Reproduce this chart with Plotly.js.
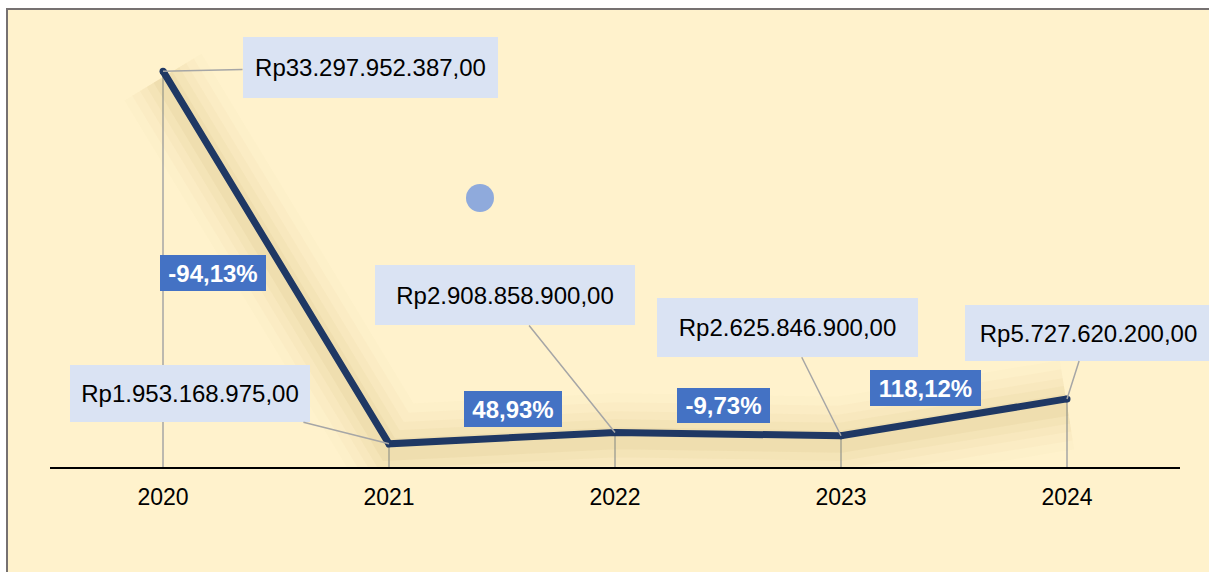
<!DOCTYPE html>
<html>
<head>
<meta charset="utf-8">
<script src="https://cdn.plot.ly/plotly-3.0.1.min.js"></script>
<style>
html,body{margin:0;padding:0;background:#ffffff;}
#chart{width:1209px;height:572px;}
</style>
</head>
<body>
<div id="chart"></div>
<script>
// ---- data ----
var years = ['2020', '2021', '2022', '2023', '2024'];
var values = [33297952387, 1953168975, 2908858900, 2625846900, 5727620200];

// ---- styles / placements (not data) ----
var valueLabelPlacement = [
  {ax: 207, ay: -4, w: 255, h: 61},
  {ax: -199, ay: -50, w: 240, h: 57},
  {ax: -110, ay: -137, w: 260, h: 60},
  {ax: -54, ay: -108, w: 261, h: 59},
  {ax: 21, ay: -66, w: 247, h: 56}
];
// growth labels: x index position & y position (same units as axes)
var growthPlacement = [
  {x: 0.221, y: 16.3e9, w: 106, h: 36},
  {x: 1.548, y: 4.9e9, w: 98, h: 36},
  {x: 2.480, y: 5.17e9, w: 93, h: 35},
  {x: 3.372, y: 6.64e9, w: 111, h: 36}
];

var FONT = 'Liberation Sans, Arial, sans-serif';
var YMAX = 37.6e9;
var SHADOW_SHIFT = 0.5e9;

function fmtRp(v) {
  var s = Math.round(v).toString();
  var out = '';
  while (s.length > 3) {
    out = '.' + s.slice(-3) + out;
    s = s.slice(0, -3);
  }
  return 'Rp' + s + out + ',00';
}
function fmtPct(p) {
  return p.toFixed(2).replace('.', ',') + '%';
}

var traces = [];
// soft shadow glow under the line (main y axis, shifted range)
var glow = [
  {w: 90, a: 0.025},
  {w: 72, a: 0.035},
  {w: 54, a: 0.045},
  {w: 38, a: 0.055},
  {w: 22, a: 0.065}
];
glow.forEach(function (g) {
  traces.push({
    x: years, y: values, type: 'scatter', mode: 'lines',
    yaxis: 'y',
    line: {color: 'rgba(185,155,80,' + g.a + ')', width: g.w},
    hoverinfo: 'skip', showlegend: false
  });
});
// main line on the overlaying axis (drawn on top)
traces.push({
  x: years, y: values, type: 'scatter', mode: 'lines+markers',
  yaxis: 'y2',
  line: {color: '#1F3864', width: 7},
  marker: {color: '#1F3864', size: 7},
  hoverinfo: 'skip', showlegend: false
});

var shapes = [];
// background panel with border
shapes.push({
  type: 'rect', xref: 'paper', yref: 'paper', layer: 'below',
  x0: (7 - 50) / 1130, x1: (1240 - 50) / 1130,
  y0: (467 - 620) / 447, y1: (467 - 9) / 447,
  fillcolor: '#FFF2CC', line: {color: '#767171', width: 2}
});
// drop lines from each point (category index positions)
years.forEach(function (yr, i) {
  shapes.push({
    type: 'line', xref: 'x', yref: 'y2', layer: 'below',
    x0: i, x1: i, y0: 0, y1: values[i],
    line: {color: '#A6A6A6', width: 1.5}
  });
});
// decorative dot
shapes.push({
  type: 'circle', xref: 'paper', yref: 'paper',
  x0: (466 - 50) / 1130, x1: (494 - 50) / 1130,
  y0: (467 - 212) / 447, y1: (467 - 184) / 447,
  fillcolor: '#8FAADC', line: {width: 0}
});

var annotations = [];
years.forEach(function (yr, i) {
  var p = valueLabelPlacement[i];
  annotations.push({
    x: i, y: values[i], xref: 'x', yref: 'y2',
    text: fmtRp(values[i]),
    showarrow: true, arrowhead: 0, arrowwidth: 1.5, arrowcolor: '#A6A6A6',
    standoff: 0, startstandoff: 0,
    ax: p.ax, ay: p.ay,
    width: p.w, height: p.h, borderpad: 0, borderwidth: 0,
    bgcolor: '#DAE3F3', align: 'center', valign: 'middle',
    font: {family: FONT, size: 24, color: '#000000'}
  });
});
for (var i = 1; i < values.length; i++) {
  var g = growthPlacement[i - 1];
  var pct = (values[i] / values[i - 1] - 1) * 100;
  annotations.push({
    x: g.x, y: g.y, xref: 'x', yref: 'y2',
    text: '<b>' + fmtPct(pct) + '</b>',
    showarrow: false,
    width: g.w, height: g.h, borderpad: 0, borderwidth: 0,
    bgcolor: '#4472C4', align: 'center', valign: 'middle',
    font: {family: FONT, size: 24, color: '#FFFFFF'}
  });
}

var layout = {
  width: 1209, height: 572,
  margin: {l: 50, r: 29, t: 20, b: 105, pad: 0},
  paper_bgcolor: '#FFFFFF',
  plot_bgcolor: 'rgba(0,0,0,0)',
  showlegend: false,
  font: {family: FONT, color: '#000000'},
  xaxis: {
    type: 'category', range: [-0.5, 4.5],
    showline: true, linecolor: '#000000', linewidth: 1.5,
    showgrid: false, zeroline: false, ticks: '',
    ticklabelstandoff: 9,
    tickfont: {family: FONT, size: 23, color: '#000000'},
    fixedrange: true
  },
  yaxis: {
    range: [0 + SHADOW_SHIFT, YMAX + SHADOW_SHIFT],
    visible: false, showgrid: false, zeroline: false, fixedrange: true
  },
  yaxis2: {
    overlaying: 'y', range: [0, YMAX],
    visible: false, showgrid: false, zeroline: false, fixedrange: true
  },
  shapes: shapes,
  annotations: annotations
};

Plotly.newPlot('chart', traces, layout, {displayModeBar: false, staticPlot: true});
</script>
</body>
</html>
